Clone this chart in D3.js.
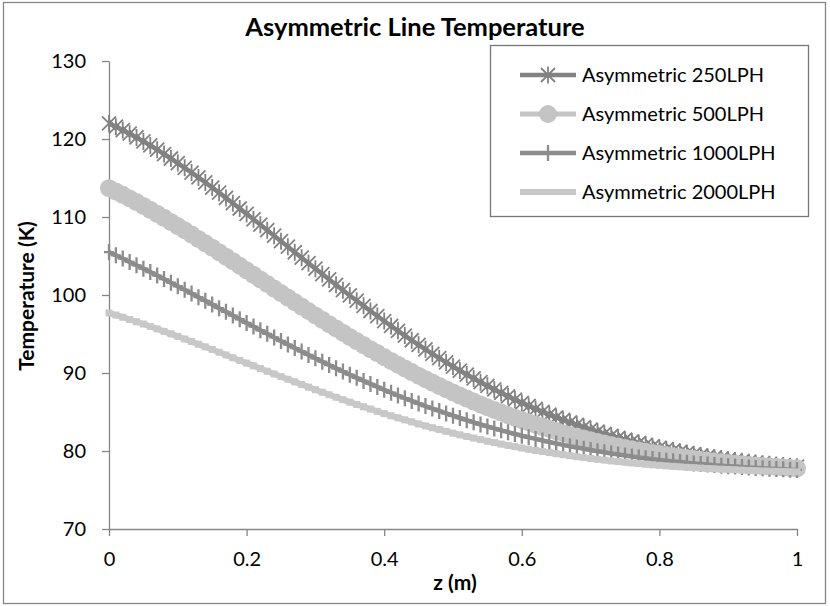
<!DOCTYPE html>
<html>
<head>
<meta charset="utf-8">
<script src="https://d3js.org/d3.v7.min.js"></script>
<style>
body { margin: 0; background: #fff; }
text { font-family: Lato, "Open Sans", sans-serif; fill: #000; }
.axis path, .axis line { stroke: #868686; stroke-width: 1.3px; }
.axis .tick text { font-size: 20px; fill: #000; }
.line { fill: none; }
</style>
</head>
<body>
<svg id="chart" width="830" height="606"></svg>
<script>
// z positions (m)
var zValues = [0,0.01,0.02,0.03,0.04,0.05,0.06,0.07,0.08,0.09,
  0.1,0.11,0.12,0.13,0.14,0.15,0.16,0.17,0.18,0.19,
  0.2,0.21,0.22,0.23,0.24,0.25,0.26,0.27,0.28,0.29,
  0.3,0.31,0.32,0.33,0.34,0.35,0.36,0.37,0.38,0.39,
  0.4,0.41,0.42,0.43,0.44,0.45,0.46,0.47,0.48,0.49,
  0.5,0.51,0.52,0.53,0.54,0.55,0.56,0.57,0.58,0.59,
  0.6,0.61,0.62,0.63,0.64,0.65,0.66,0.67,0.68,0.69,
  0.7,0.71,0.72,0.73,0.74,0.75,0.76,0.77,0.78,0.79,
  0.8,0.81,0.82,0.83,0.84,0.85,0.86,0.87,0.88,0.89,
  0.9,0.91,0.92,0.93,0.94,0.95,0.96,0.97,0.98,0.99,1];

var seriesNames = ["Asymmetric 250LPH", "Asymmetric 500LPH", "Asymmetric 1000LPH", "Asymmetric 2000LPH"];

var temp250 = [122.00,121.58,121.14,120.68,120.20,119.69,
  119.17,118.63,118.07,117.50,116.91,
  116.31,115.70,115.07,114.43,113.78,
  113.12,112.45,111.77,111.09,110.40,
  109.71,109.01,108.31,107.61,106.90,
  106.19,105.48,104.78,104.08,103.38,
  102.68,101.99,101.30,100.62,99.94,
  99.27,98.61,97.95,97.30,96.66,
  96.03,95.41,94.80,94.20,93.61,
  93.03,92.46,91.90,91.36,90.83,
  90.31,89.80,89.30,88.82,88.35,
  87.89,87.44,87.01,86.59,86.18,
  85.78,85.40,85.03,84.67,84.32,
  83.98,83.66,83.35,83.05,82.75,
  82.47,82.20,81.94,81.69,81.45,
  81.22,81.00,80.79,80.59,80.40,
  80.22,80.05,79.88,79.72,79.56,
  79.41,79.27,79.14,79.01,78.89,
  78.78,78.67,78.57,78.47,78.38,
  78.29,78.21,78.13,78.06,77.99];

var temp500 = [113.70,113.28,112.84,112.38,111.91,111.42,
  110.92,110.41,109.89,109.37,108.84,
  108.30,107.75,107.19,106.63,106.06,
  105.49,104.91,104.33,103.75,103.17,
  102.59,102.00,101.41,100.83,100.25,
  99.67,99.09,98.52,97.95,97.38,
  96.82,96.26,95.71,95.17,94.63,
  94.10,93.58,93.06,92.55,92.04,
  91.54,91.06,90.59,90.12,89.66,
  89.21,88.77,88.34,87.92,87.51,
  87.11,86.72,86.34,85.97,85.61,
  85.26,84.92,84.59,84.27,83.97,
  83.67,83.38,83.10,82.82,82.55,
  82.29,82.05,81.82,81.59,81.37,
  81.16,80.96,80.77,80.58,80.39,
  80.22,80.06,79.90,79.75,79.60,
  79.46,79.33,79.20,79.08,78.96,
  78.85,78.75,78.65,78.55,78.46,
  78.38,78.30,78.22,78.15,78.08,
  78.01,77.95,77.89,77.83,77.78];

var temp1000 = [105.50,105.09,104.67,104.24,103.81,103.38,
  102.94,102.49,102.04,101.58,101.12,
  100.66,100.19,99.72,99.25,98.78,
  98.31,97.84,97.36,96.89,96.42,
  95.95,95.48,95.02,94.56,94.10,
  93.65,93.20,92.76,92.32,91.88,
  91.45,91.02,90.60,90.19,89.78,
  89.38,88.99,88.60,88.22,87.84,
  87.47,87.11,86.76,86.42,86.09,
  85.76,85.44,85.13,84.82,84.52,
  84.23,83.95,83.67,83.40,83.14,
  82.89,82.65,82.41,82.18,81.96,
  81.75,81.55,81.35,81.15,80.96,
  80.78,80.61,80.44,80.28,80.12,
  79.97,79.83,79.69,79.55,79.42,
  79.30,79.18,79.07,78.96,78.86,
  78.76,78.67,78.58,78.49,78.41,
  78.33,78.26,78.19,78.12,78.06,
  78.00,77.94,77.88,77.83,77.78,
  77.73,77.69,77.65,77.61,77.57];

var temp2000 = [97.70,97.43,97.15,96.86,96.57,96.28,
  95.97,95.66,95.34,95.02,94.69,
  94.36,94.03,93.69,93.35,93.01,
  92.66,92.31,91.96,91.61,91.27,
  90.92,90.57,90.22,89.88,89.54,
  89.20,88.86,88.52,88.19,87.86,
  87.53,87.21,86.89,86.58,86.27,
  85.97,85.67,85.38,85.09,84.80,
  84.52,84.25,83.99,83.73,83.47,
  83.22,82.98,82.75,82.52,82.29,
  82.07,81.86,81.66,81.46,81.26,
  81.07,80.89,80.72,80.55,80.38,
  80.22,80.07,79.93,79.79,79.65,
  79.52,79.39,79.27,79.15,79.04,
  78.93,78.83,78.73,78.64,78.55,
  78.46,78.38,78.30,78.23,78.16,
  78.09,78.03,77.97,77.91,77.86,
  77.81,77.76,77.71,77.67,77.63,
  77.59,77.55,77.51,77.48,77.45,
  77.42,77.39,77.36,77.34,77.32];

var xTicks = [0, 0.2, 0.4, 0.6, 0.8, 1];
var yTicks = [70, 80, 90, 100, 110, 120, 130];

var svg = d3.select("#chart");
var plotLeft = 109, plotRight = 797, plotTop = 61, plotBottom = 529;

var x = d3.scaleLinear().domain([0, 1]).range([plotLeft, plotRight]);
var y = d3.scaleLinear().domain([70, 130]).range([plotBottom, plotTop]);

// chart border
svg.append("rect")
    .attr("x", 3.5).attr("y", 2.5)
    .attr("width", 822).attr("height", 601)
    .attr("fill", "#fff").attr("stroke", "#868686").attr("stroke-width", 1.3);

svg.append("text")
    .attr("x", 415).attr("y", 36)
    .attr("text-anchor", "middle")
    .style("font-size", "25.5px").style("font-weight", "bold")
    .text("Asymmetric Line Temperature");

// axes
svg.append("g")
    .attr("class", "axis")
    .attr("transform", "translate(" + plotLeft + ",0)")
    .call(d3.axisLeft(y).tickValues(yTicks).tickSize(7).tickSizeOuter(0).tickPadding(16).tickFormat(d3.format("d")));

svg.append("g")
    .attr("class", "axis")
    .attr("transform", "translate(0," + plotBottom + ")")
    .call(d3.axisBottom(x).tickValues(xTicks).tickSize(7).tickSizeOuter(0).tickPadding(16).tickFormat(d3.format("~g")));

svg.append("text")
    .attr("transform", "translate(34,296) rotate(-90)")
    .attr("text-anchor", "middle")
    .style("font-size", "21px").style("font-weight", "bold")
    .text("Temperature (K)");

svg.append("text")
    .attr("x", 455).attr("y", 590)
    .attr("text-anchor", "middle")
    .style("font-size", "21px").style("font-weight", "bold")
    .text("z (m)");

// series styles
var styles = [
  {values: temp250, color: "#828282", width: 4.5, marker: "star"},
  {values: temp500, color: "#c4c4c4", width: 5, marker: "circle"},
  {values: temp1000, color: "#8c8c8c", width: 4.5, marker: "plus"},
  {values: temp2000, color: "#c8c8c8", width: 6, marker: "dash"}
];

var markerPaths = {
  star: "M-7,-7L7,7M-7,7L7,-7M0,-8.5L0,8.5",
  plus: "M0,-8L0,8M-5,0L5,0",
  dash: "M-3.5,0L3.5,0"
};
var markerWidths = {star: 1.8, plus: 2.3, dash: 7};

var line = d3.line()
    .x(function(d, i) { return x(zValues[i]); })
    .y(function(d) { return y(d); });

function drawMarker(g, s, px, py) {
  if (s.marker === "circle") {
    g.append("circle").attr("cx", px).attr("cy", py).attr("r", 9)
      .attr("fill", s.color);
  } else {
    g.append("path").attr("d", markerPaths[s.marker])
      .attr("transform", "translate(" + px + "," + py + ")")
      .attr("fill", "none").attr("stroke", s.color)
      .attr("stroke-width", markerWidths[s.marker]);
  }
}

styles.forEach(function(s) {
  var g = svg.append("g");
  g.append("path")
    .attr("class", "line")
    .attr("d", line(s.values))
    .attr("stroke", s.color)
    .attr("stroke-width", s.width);
  s.values.forEach(function(v, i) {
    drawMarker(g, s, x(zValues[i]), y(v));
  });
});

// legend
var legend = svg.append("g");
legend.append("rect")
    .attr("x", 490.5).attr("y", 45.5)
    .attr("width", 318).attr("height", 171)
    .attr("fill", "#fff").attr("stroke", "#777").attr("stroke-width", 1.3);

var legendY = [75, 114, 153, 192];
styles.forEach(function(s, i) {
  var ly = legendY[i];
  legend.append("line")
    .attr("x1", 520).attr("x2", 576)
    .attr("y1", ly).attr("y2", ly)
    .attr("stroke", s.color).attr("stroke-width", s.width);
  if (s.marker !== "dash") drawMarker(legend, s, 548, ly);
  legend.append("text")
    .attr("x", 582).attr("y", ly)
    .attr("dy", "0.35em")
    .style("font-size", "20px")
    .text(seriesNames[i]);
});
</script>
</body>
</html>
